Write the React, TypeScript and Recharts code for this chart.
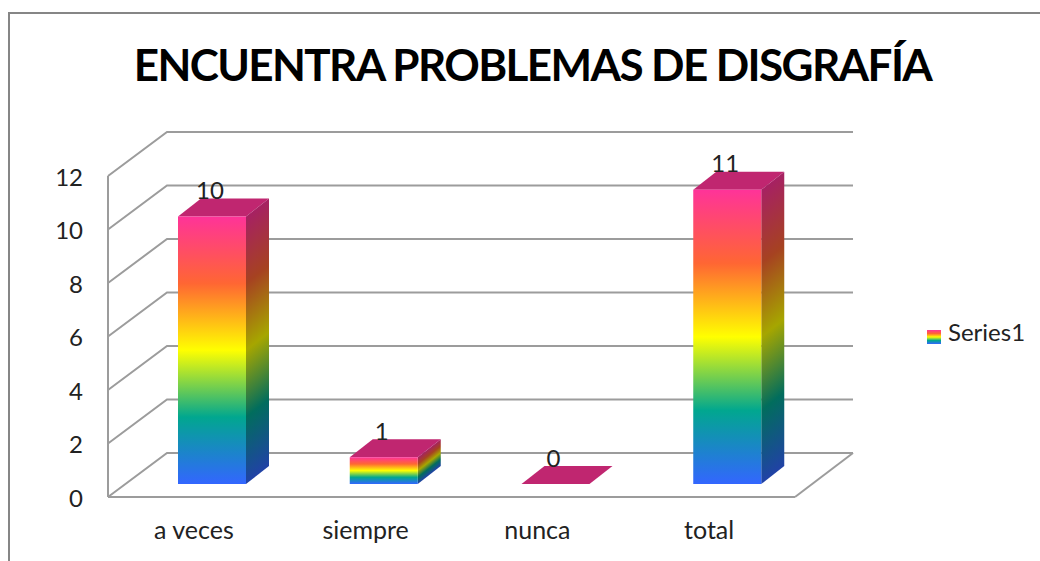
import { Bar, CartesianGrid, ComposedChart, LabelList, Legend, XAxis, YAxis } from "recharts";

const categories = ["a veces", "siempre", "nunca", "total"];
const seriesValues = [10, 1, 0, 11];
const yTicks = [0, 2, 4, 6, 8, 10, 12];
const rainbow = ["#ff3399", "#ff6633", "#ffff00", "#01a78f", "#3366ff"];
const rainbowDark = ["#a62163", "#a64221", "#a6a600", "#016d5d", "#2142a6"];

const data = categories.map((name, i) => ({ name, Series1: seriesValues[i] }));

const FONT = "Lato, sans-serif";
const GRID = "#9c9c9c";
const WALL_DX = 59;
const WALL_DY = 44;
const BAR_SHIFT_X = 18;
const BAR_SHIFT_Y = 13;
const DEPTH_X = 23;
const DEPTH_Y = 18;

function WallLine({ x1, x2, y1, index }: any) {
  const isFloor = index === 0;
  const d = `M${x1},${y1}L${x1 + WALL_DX},${y1 - WALL_DY}L${x2 + WALL_DX - 1},${y1 - WALL_DY}`;
  return (
    <g>
      <path d={d} fill="none" stroke={GRID} strokeWidth={2} />
      {isFloor && <path d={`M${x2},${y1}L${x2 + WALL_DX - 1},${y1 - WALL_DY}`} stroke={GRID} strokeWidth={2} />}
    </g>
  );
}

function Bar3D({ x, y, width, height }: any) {
  const left = x + BAR_SHIFT_X;
  const top = y - BAR_SHIFT_Y;
  const right = left + width;
  return (
    <g>
      <polygon
        points={`${left},${top} ${right},${top} ${right + DEPTH_X},${top - DEPTH_Y} ${left + DEPTH_X},${top - DEPTH_Y}`}
        fill="#c02670"
      />
      {height > 0 && (
        <>
          <rect
            x={0}
            y={0}
            width={DEPTH_X}
            height={height}
            fill="url(#rainbowSide)"
            transform={`translate(${right},${top}) skewY(-38.05)`}
          />
          <rect x={left} y={top} width={width} height={height} fill="url(#rainbow)" />
        </>
      )}
    </g>
  );
}

function BarValue({ x, y, width, value }: any) {
  return (
    <text x={x + width / 2 + 16} y={y - 40} textAnchor="middle" dominantBaseline="central" fontFamily={FONT} fontSize={24} fill="#222">
      {value}
    </text>
  );
}

export default function App() {
  return (
    <div style={{ position: "absolute", left: 0, top: 0, width: 1040, height: 561, background: "#fff", overflow: "hidden" }}>
      <div style={{ position: "absolute", left: 8, top: 12, right: 0, bottom: 0, borderLeft: "2px solid #868686", borderTop: "2px solid #868686" }} />
      <div style={{ position: "absolute", left: 0, width: 1065, top: 36, textAlign: "center", fontFamily: FONT, fontWeight: 700, fontSize: 44, letterSpacing: -1.6, lineHeight: "56px", color: "#000", whiteSpace: "nowrap" }}>
        ENCUENTRA PROBLEMAS DE DISGRAFÍA
      </div>
      <ComposedChart
        width={1040}
        height={561}
        data={data}
        margin={{ top: 176, right: 245, bottom: 24, left: 48 }}
        style={{ position: "absolute", left: 0, top: 0 }}
      >
        <defs>
          <linearGradient id="rainbow" x1="0" y1="0" x2="0" y2="1">
            {rainbow.map((c, i) => (
              <stop key={c} offset={i / 4} stopColor={c} />
            ))}
          </linearGradient>
          <linearGradient id="rainbowSide" x1="0" y1="0" x2="0" y2="1">
            {rainbowDark.map((c, i) => (
              <stop key={c} offset={i / 4} stopColor={c} />
            ))}
          </linearGradient>
        </defs>
        <CartesianGrid vertical={false} horizontal={(props: any) => <WallLine {...props} />} syncWithTicks />
        <XAxis
          dataKey="name"
          height={40}
          tickLine={false}
          axisLine={{ stroke: GRID, strokeWidth: 2 }}
          tick={{ fontFamily: FONT, fontSize: 25, fill: "#222" }}
          tickMargin={18}
        />
        <YAxis
          width={60}
          domain={[0, 12]}
          ticks={yTicks}
          interval={0}
          tickLine={false}
          axisLine={{ stroke: GRID, strokeWidth: 2 }}
          tick={{ fontFamily: FONT, fontSize: 24, fill: "#222", dy: 1 }}
          tickMargin={19}
        />
        <Bar dataKey="Series1" barSize={68} fill="url(#rainbow)" legendType="square" shape={<Bar3D />} isAnimationActive={false}>
          <LabelList dataKey="Series1" content={<BarValue />} />
        </Bar>
        <Legend
          layout="vertical"
          align="center"
          verticalAlign="middle"
          iconSize={14}
          wrapperStyle={{ position: "absolute", left: 927, top: 317, width: 112, bottom: "auto", right: "auto" }}
          formatter={(v: string) => <span style={{ fontFamily: FONT, fontSize: 24, color: "#222", marginLeft: 3 }}>{v}</span>}
        />
      </ComposedChart>
    </div>
  );
}
